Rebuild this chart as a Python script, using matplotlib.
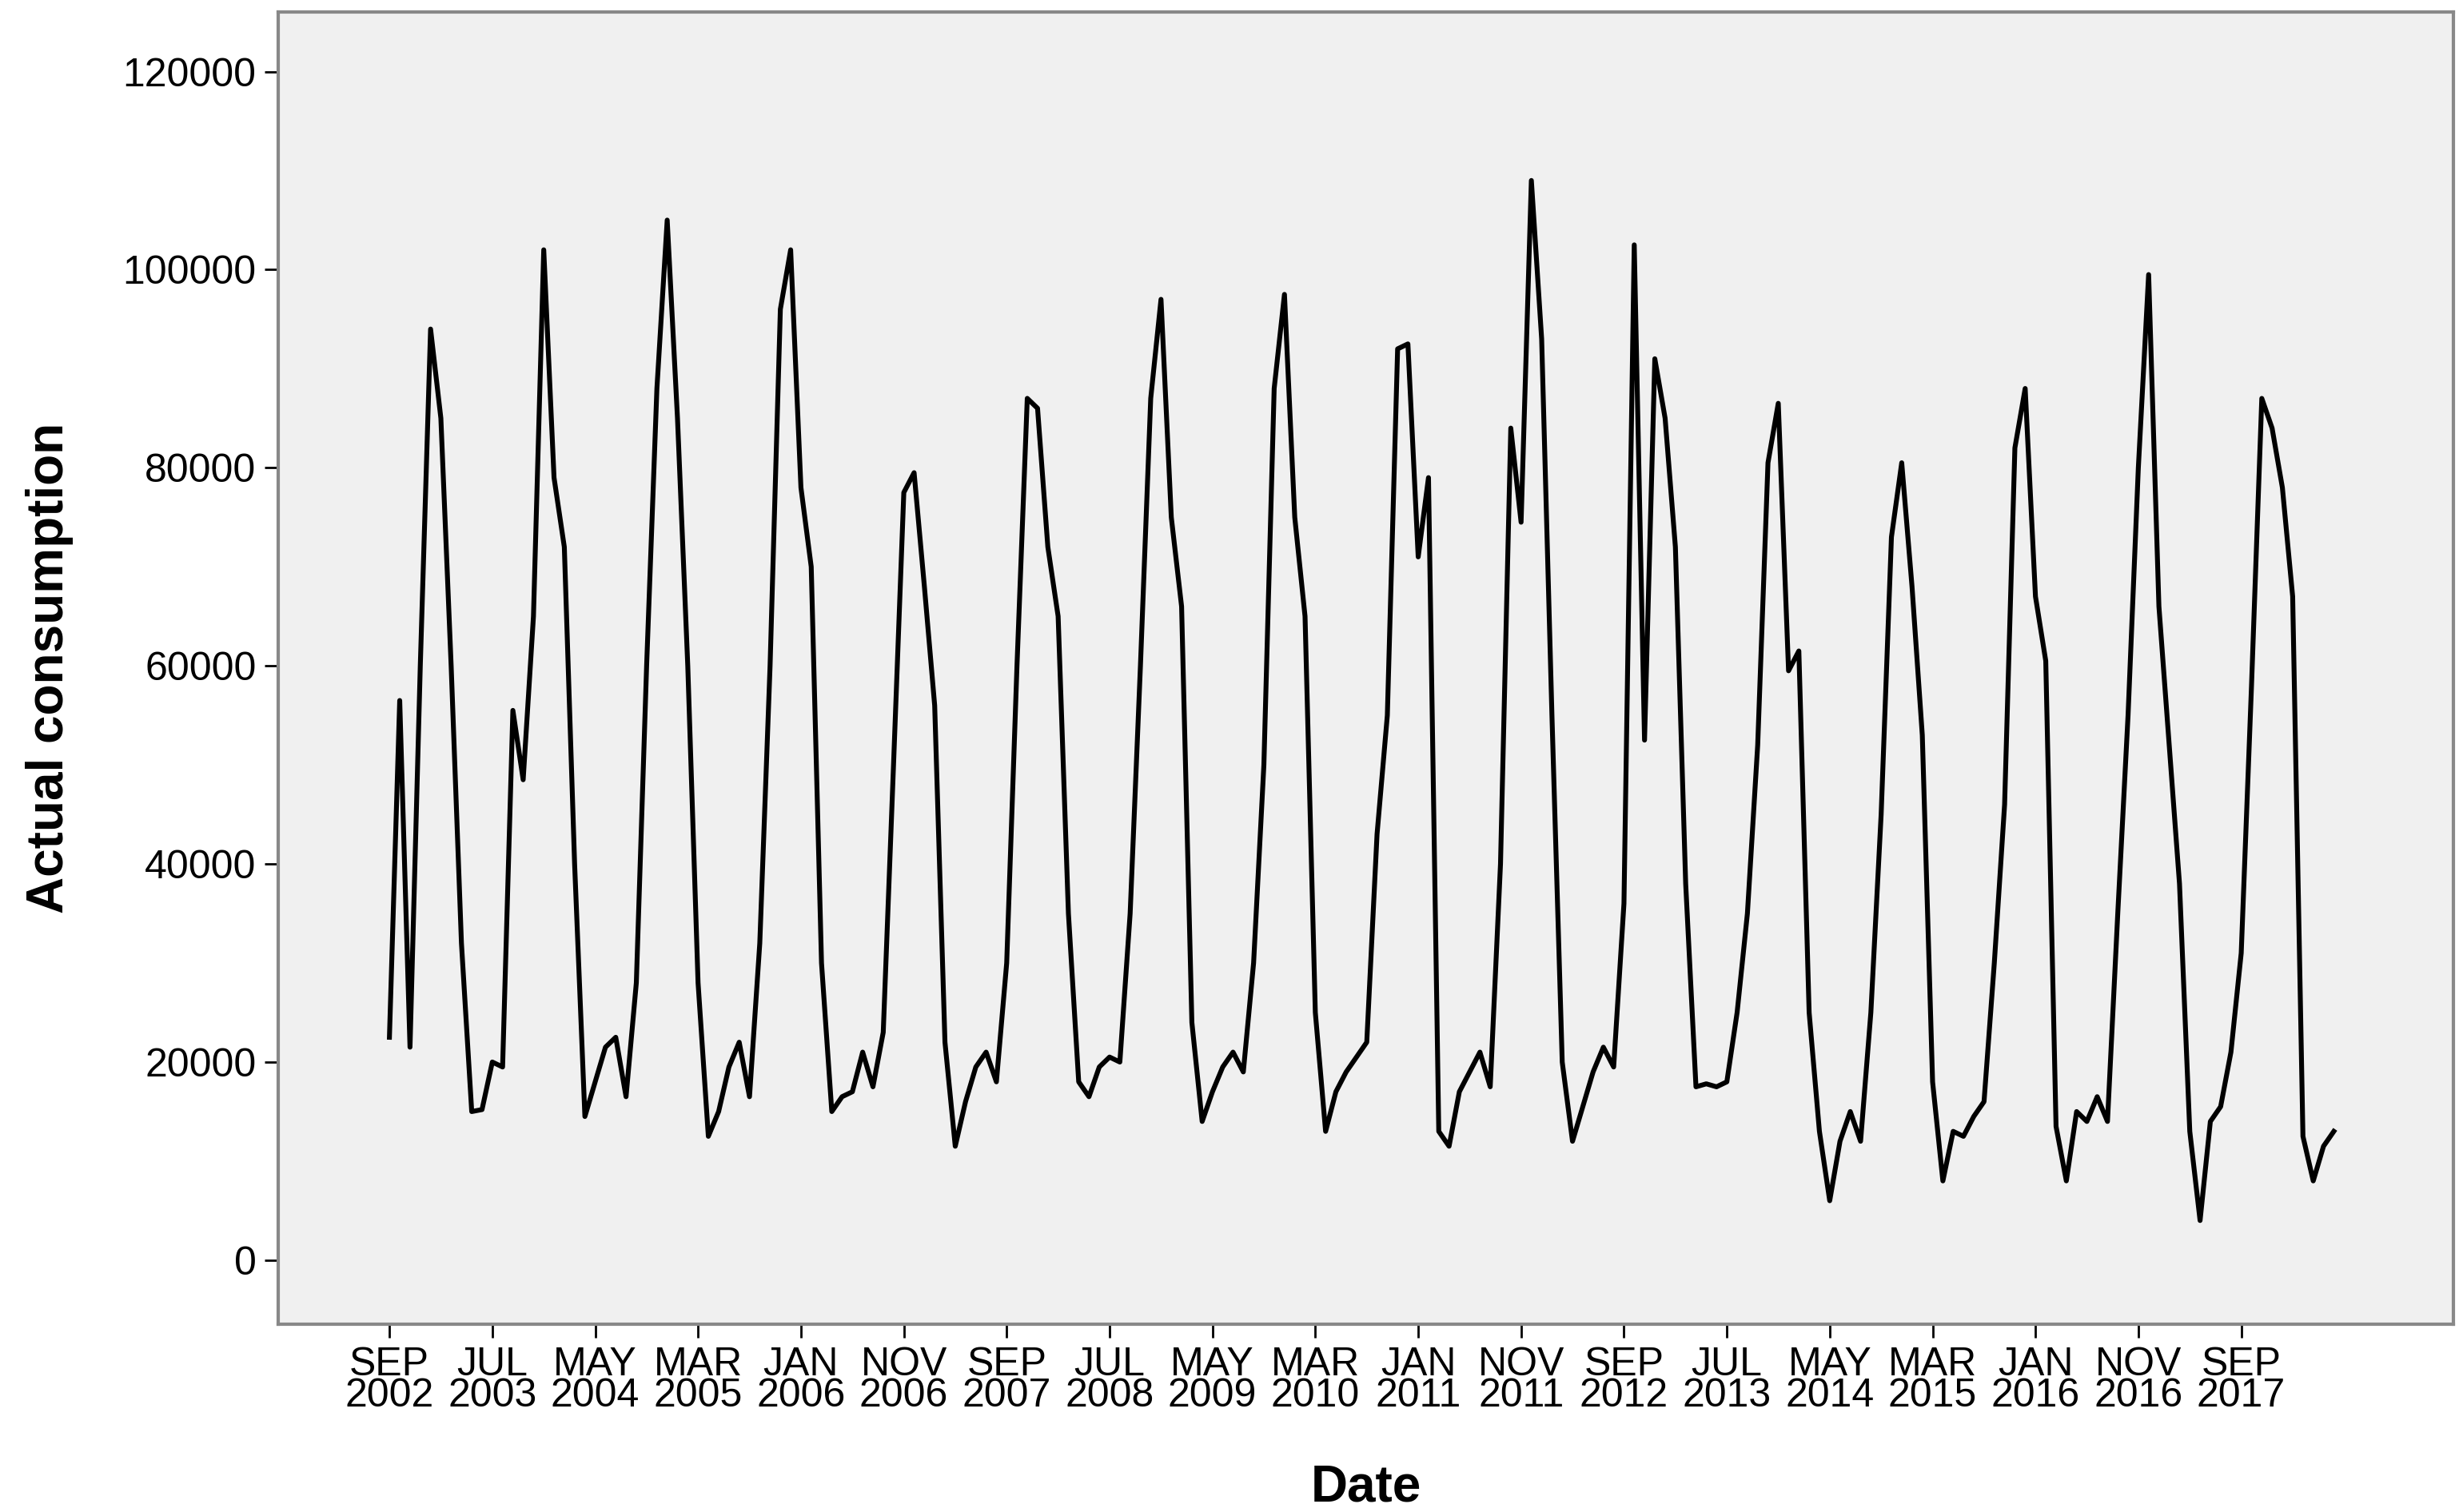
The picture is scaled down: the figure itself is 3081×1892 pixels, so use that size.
import matplotlib
matplotlib.use("Agg")
import matplotlib.pyplot as plt
import pandas as pd

values = [22500, 56500, 21500, 60000, 94000, 85000, 60000, 32000, 15000, 15200, 20000, 19500,
          55500, 48500, 65000, 102000, 79000, 72000, 40000, 14500, 18000, 21500, 22500, 16500,
          28000, 60000, 88000, 105000, 85000, 60000, 28000, 12500, 15000, 19500, 22000, 16500,
          32000, 60000, 96000, 102000, 78000, 70000, 30000, 15000, 16500, 17000, 21000, 17500,
          23000, 50000, 77500, 79500, 68000, 56000, 22000, 11500, 16000, 19500, 21000, 18000,
          30000, 60000, 87000, 86000, 72000, 65000, 35000, 18000, 16500, 19500, 20500, 20000,
          35000, 60000, 87000, 97000, 75000, 66000, 24000, 14000, 17000, 19500, 21000, 19000,
          30000, 50000, 88000, 97500, 75000, 65000, 25000, 13000, 17000, 19000, 20500, 22000,
          43000, 55000, 92000, 92500, 71000, 79000, 13000, 11500, 17000, 19000, 21000, 17500,
          40000, 84000, 74500, 109000, 93000, 55000, 20000, 12000, 15500, 19000, 21500, 19500,
          36000, 102500, 52500, 91000, 85000, 72000, 38000, 17500, 17800, 17500, 18000, 25000,
          35000, 52000, 80500, 86500, 59500, 61500, 25000, 13000, 6000, 12000, 15000, 12000,
          25000, 45000, 73000, 80500, 68000, 53000, 18000, 8000, 13000, 12500, 14500, 16000,
          30000, 46000, 82000, 88000, 67000, 60500, 13500, 8000, 15000, 14000, 16500, 14000,
          35000, 55000, 80000, 99500, 66000, 52000, 38000, 13000, 4000, 14000, 15500, 21000,
          31000, 58000, 87000, 84000, 78000, 67000, 12500, 8000, 11500, 13000]

dates = pd.date_range("2002-09-01", periods=len(values), freq="MS")
tick_idx = list(range(0, 181, 10))
tick_labels = [dates[i].strftime("%b").upper() + "\n" + dates[i].strftime("%Y") for i in tick_idx]
yticks = [0, 20000, 40000, 60000, 80000, 100000, 120000]

plt.rcParams['font.family'] = ['Liberation Sans', 'DejaVu Sans']
fig = plt.figure(figsize=(15.405, 9.46), dpi=200)
ax = fig.add_axes([0.113, 0.124, 0.883, 0.868])
ax.set_facecolor("#f0f0f0")
x = list(range(len(values)))
ax.plot(x, values, color="black", lw=2.2)
ax.set_xlim(-10.8, 200.6)
ax.set_ylim(-6500, 126000)
ax.set_xticks(tick_idx)
ax.set_xticklabels(tick_labels, fontsize=18, linespacing=0.8)
ax.set_yticks(yticks)
ax.set_yticklabels([str(v) for v in yticks], fontsize=18)
ax.tick_params(length=6, width=1, color="black", pad=4)
for s in ax.spines.values():
    s.set_color("#888888")
    s.set_linewidth(1.5)
ax.set_xlabel("Date", fontsize=23, fontweight="bold", labelpad=22)
ax.set_ylabel("Actual consumption", fontsize=23, fontweight="bold", labelpad=22)
fig.savefig("out.png", dpi=200, facecolor="white")
